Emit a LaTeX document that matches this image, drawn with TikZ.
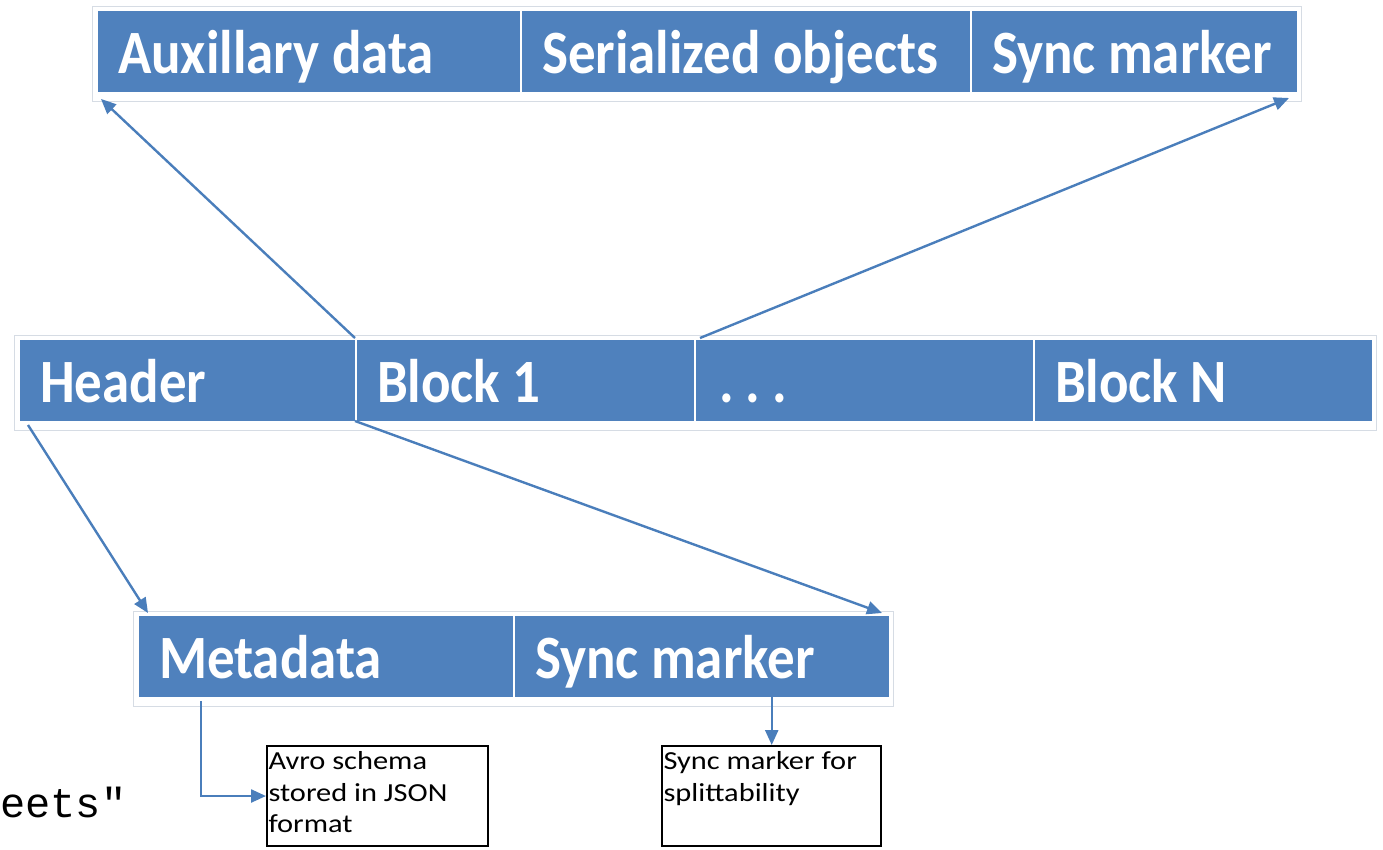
\documentclass[tikz,border=0pt]{standalone}
\usepackage{fontspec}
\setmainfont{Carlito}
\newfontfamily\monofam{Liberation Mono}
\usetikzlibrary{arrows.meta}
\definecolor{blockblue}{HTML}{4F81BD}
\definecolor{linkblue}{HTML}{4A7EBB}
\definecolor{rim}{HTML}{D6DCE4}
\tikzset{
  blk/.style={rectangle, fill=blockblue, draw=white, line width=2pt,
    anchor=north west, minimum height=83pt, inner xsep=0pt, inner ysep=0pt,
    text height=63pt, text depth=20pt,
    text=white, font=\bfseries\fontsize{55}{60}\selectfont},
  rimline/.style={draw=rim, line width=1pt},
  link/.style={draw=linkblue, line width=2.4pt,
    -{Triangle[length=15pt,width=13pt]}},
  note/.style={rectangle, draw=black, line width=2pt, anchor=north west,
    inner sep=1.5pt, font=\fontsize{26}{31.5}\selectfont}
}
% left-aligned, slightly tall label inside a block of given width
\newcommand{\blocktext}[2]{\makebox[#1][l]{\hspace{21pt}\scalebox{1}[1.12]{#2}}}
% note text, widened a little
\newcommand{\notetext}[2]{\scalebox{1.17}[1]{\parbox[t][97pt][t]{#1}{\strut #2}}}
\begin{document}
\begin{tikzpicture}[x=1pt, y=-1pt]
\useasboundingbox (0,0) rectangle (1383,849);

% ---- data block layout (top row) ----
\draw[rimline] (92,6) rectangle (1301,101);
\node[blk] (aux)   at (96,9)  {\blocktext{424pt}{Auxillary data}};
\node[blk] (ser)   at (520,9) {\blocktext{450pt}{Serialized objects}};
\node[blk] (syncT) at (970,9) {\blocktext{327pt}{Sync marker}};

% ---- file layout (middle row) ----
\draw[rimline] (14,335) rectangle (1376,430);
\node[blk] (hdr)  at (18,338)   {\blocktext{337pt}{Header}};
\node[blk] (b1)   at (355,338)  {\blocktext{339pt}{Block 1}};
\node[blk] (dots) at (694,338)  {\blocktext{339pt}{\hspace{3pt}.\hspace{12pt}.\hspace{12pt}.}};
\node[blk] (bn)   at (1033,338) {\blocktext{339pt}{Block N}};

% ---- header layout (bottom row) ----
\draw[rimline] (133,611) rectangle (893,706);
\node[blk] (meta)  at (137,614) {\blocktext{376pt}{Metadata}};
\node[blk] (syncB) at (513,614) {\blocktext{376pt}{Sync marker}};

% ---- notes ----
\node[note] (avro) at (266,745)
  {\notetext{186pt}{Avro schema\\stored in JSON\\format}};
\node[note] (split) at (661,745)
  {\notetext{185pt}{Sync marker for\\splittability}};

% stray code fragment at the left edge
\node[anchor=base west, inner sep=0pt, font=\monofam\fontsize{42}{42}\selectfont]
  (frag) at (0,817) {eets"};

% ---- connectors ----
\draw[link] (b1.north west) -- ([shift={(5,5)}]aux.south west);
\draw[link] ([xshift=6pt]dots.north west) -- ([shift={(-10,4)}]syncT.south east);
\draw[link] ([shift={(10,2)}]hdr.south west) -- ([shift={(11,-1)}]meta.north west);
\draw[link] ([yshift=2pt]b1.south west) -- ([shift={(-9,-1)}]syncB.north east);
\draw[link] ([shift={(64,2)}]meta.south west) |- (avro.west);
\draw[link] ([yshift=2pt]syncB.south -| split.north) -- (split.north);
\end{tikzpicture}
\end{document}
